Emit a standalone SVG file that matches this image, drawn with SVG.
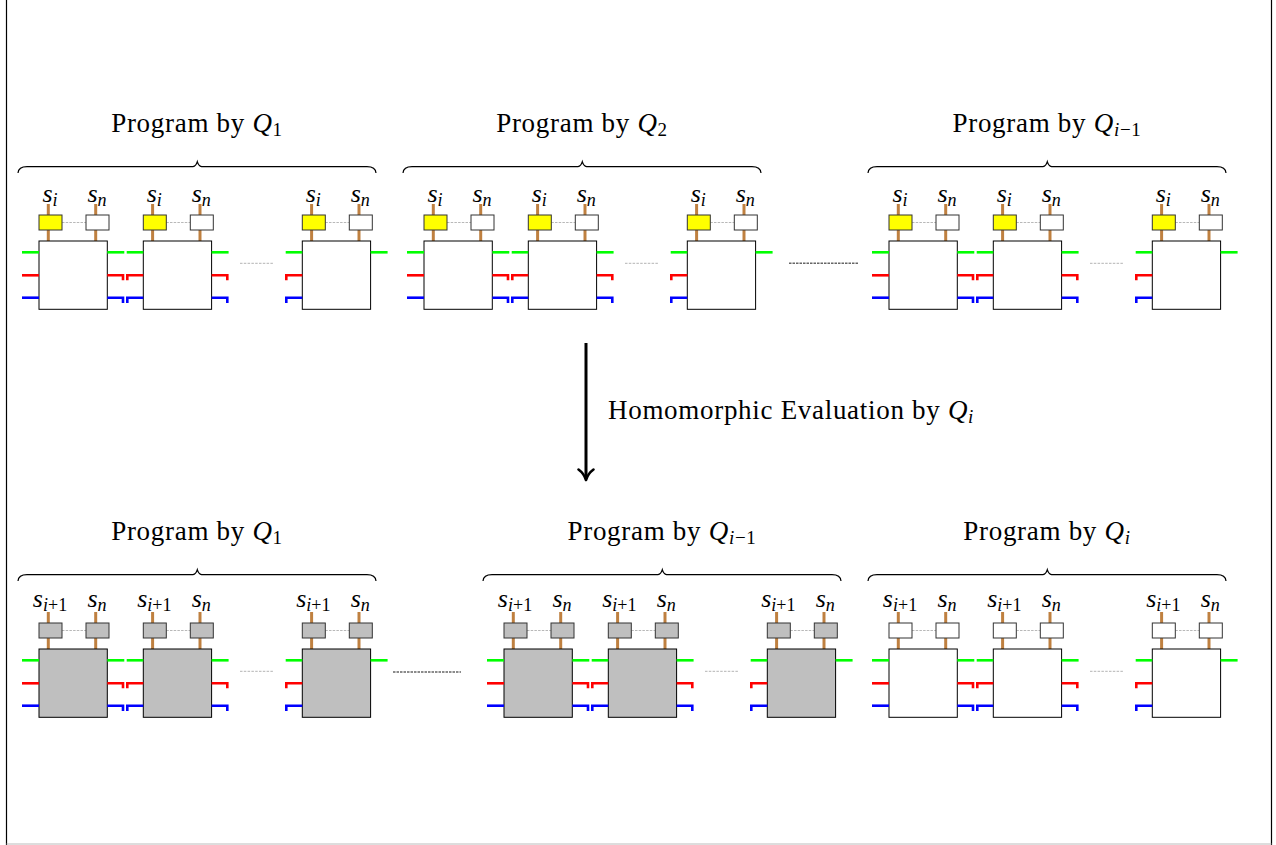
<svg xmlns="http://www.w3.org/2000/svg" xmlns:xlink="http://www.w3.org/1999/xlink" width="1276" height="845" viewBox="0 0 1276 845">
<style>
.brown{stroke:#bf8040;stroke-width:3}
.big{stroke:#000;stroke-width:1}
.sm{stroke:#333;stroke-width:1}
.lnk{stroke:#999;stroke-width:0.7;stroke-dasharray:2.5 1.2}
.g{stroke:#00ff00;stroke-width:2.6;fill:none}
.r{stroke:#ff0000;stroke-width:2.6;fill:none;stroke-linejoin:miter}
.b{stroke:#0000ff;stroke-width:2.6;fill:none;stroke-linejoin:miter}
.lab{font-family:"Liberation Serif",serif;font-style:italic;font-size:26px;text-anchor:middle;fill:#000}
.sub{font-size:18px}
.prog{font-family:"Liberation Serif",serif;font-size:27px;letter-spacing:0.7px;text-anchor:middle;fill:#000}
.brace{stroke:#000;stroke-width:1.2;fill:none}
.dots{stroke:#aaa;stroke-width:0.9;stroke-dasharray:2.5 1.3}
.gdots{stroke:#666;stroke-width:1.6;stroke-dasharray:2.5 1}
</style>
<defs>
<g id="core-yellow">
<line class="brown" x1="9.3" y1="204" x2="9.3" y2="241"/>
<line class="brown" x1="56.7" y1="204" x2="56.7" y2="241"/>
<line class="lnk" x1="23" y1="222.5" x2="47" y2="222.5"/>
<rect class="sm" x="0" y="215" width="23" height="15" fill="#ffff00"/>
<rect class="sm" x="47" y="215" width="23" height="15" fill="#ffffff"/>
<rect class="big" x="0" y="241" width="68.3" height="68.3" fill="#ffffff"/>
</g>
<g id="core-gray">
<line class="brown" x1="9.3" y1="204" x2="9.3" y2="241"/>
<line class="brown" x1="56.7" y1="204" x2="56.7" y2="241"/>
<line class="lnk" x1="23" y1="222.5" x2="47" y2="222.5"/>
<rect class="sm" x="0" y="215" width="23" height="15" fill="#bfbfbf"/>
<rect class="sm" x="47" y="215" width="23" height="15" fill="#bfbfbf"/>
<rect class="big" x="0" y="241" width="68.3" height="68.3" fill="#bfbfbf"/>
</g>
<g id="core-white">
<line class="brown" x1="9.3" y1="204" x2="9.3" y2="241"/>
<line class="brown" x1="56.7" y1="204" x2="56.7" y2="241"/>
<line class="lnk" x1="23" y1="222.5" x2="47" y2="222.5"/>
<rect class="sm" x="0" y="215" width="23" height="15" fill="#ffffff"/>
<rect class="sm" x="47" y="215" width="23" height="15" fill="#ffffff"/>
<rect class="big" x="0" y="241" width="68.3" height="68.3" fill="#ffffff"/>
</g>
<g id="lp">
<path class="g" d="M-17,252.3H0"/>
<path class="r" d="M-17,275.3H0"/>
<path class="b" d="M-17,297.7H0"/>
</g>
<g id="lt">
<path class="g" d="M-16.6,252.3H0"/>
<path class="r" d="M-16,280.3V275.3H0"/>
<path class="b" d="M-16,302.9V297.7H0"/>
</g>
<g id="rt">
<path class="g" d="M68.3,252.3H85.3"/>
<path class="r" d="M68.3,275.3H84V280.3"/>
<path class="b" d="M68.3,297.7H84V302.9"/>
</g>
<g id="rg">
<path class="g" d="M68.3,252.3H85.3"/>
</g>
<path id="bracepath" class="brace" d="M18,173 Q18.5,166.7 27,166.7 L193,166.7 Q196,166.2 197.3,161.7 Q198.6,166.2 201.6,166.7 L367,166.7 Q375.5,166.7 376,173"/>
</defs>

<rect x="0" y="0" width="1276" height="845" fill="#ffffff"/>
<g id="frame">
<line x1="6.5" y1="0" x2="6.5" y2="845" stroke="#000" stroke-width="1.2"/>
<line x1="1271.5" y1="0" x2="1271.5" y2="845" stroke="#000" stroke-width="1.2"/>
<line x1="6.5" y1="844" x2="1271.5" y2="844" stroke="#bbb" stroke-width="1"/>
</g>

<!-- Top row -->
<g id="top-q1">
<use href="#bracepath"/>
<text class="prog" x="197" y="132">Program by <tspan font-style="italic">Q</tspan><tspan font-size="19" dy="4">1</tspan></text>
<g id="top-q1-u1" transform="translate(39,0)"><use href="#core-yellow"/><use href="#lp"/><use href="#rt"/><text class="lab" x="11" y="202">s<tspan class="sub" dy="3.5">i</tspan></text><text class="lab" x="58" y="202">s<tspan class="sub" dy="3.5">n</tspan></text></g>
<g id="top-q1-u2" transform="translate(143.3,0)"><use href="#core-yellow"/><use href="#lt"/><use href="#rt"/><text class="lab" x="11" y="202">s<tspan class="sub" dy="3.5">i</tspan></text><text class="lab" x="58" y="202">s<tspan class="sub" dy="3.5">n</tspan></text></g>
<line class="dots" x1="240" y1="263.3" x2="273" y2="263.3"/>
<g id="top-q1-u3" transform="translate(302.3,0)"><use href="#core-yellow"/><use href="#lt"/><use href="#rg"/><text class="lab" x="11" y="202">s<tspan class="sub" dy="3.5">i</tspan></text><text class="lab" x="58" y="202">s<tspan class="sub" dy="3.5">n</tspan></text></g>
</g>

<g id="top-q2" transform="translate(385,0)">
<use href="#bracepath"/>
<text class="prog" x="197" y="132">Program by <tspan font-style="italic">Q</tspan><tspan font-size="19" dy="4">2</tspan></text>
<g id="top-q2-u1" transform="translate(39,0)"><use href="#core-yellow"/><use href="#lp"/><use href="#rt"/><text class="lab" x="11" y="202">s<tspan class="sub" dy="3.5">i</tspan></text><text class="lab" x="58" y="202">s<tspan class="sub" dy="3.5">n</tspan></text></g>
<g id="top-q2-u2" transform="translate(143.3,0)"><use href="#core-yellow"/><use href="#lt"/><use href="#rt"/><text class="lab" x="11" y="202">s<tspan class="sub" dy="3.5">i</tspan></text><text class="lab" x="58" y="202">s<tspan class="sub" dy="3.5">n</tspan></text></g>
<line class="dots" x1="240" y1="263.3" x2="273" y2="263.3"/>
<g id="top-q2-u3" transform="translate(302.3,0)"><use href="#core-yellow"/><use href="#lt"/><use href="#rg"/><text class="lab" x="11" y="202">s<tspan class="sub" dy="3.5">i</tspan></text><text class="lab" x="58" y="202">s<tspan class="sub" dy="3.5">n</tspan></text></g>
</g>

<g id="top-qim1" transform="translate(850,0)">
<use href="#bracepath"/>
<text class="prog" x="197" y="132">Program by <tspan font-style="italic">Q</tspan><tspan font-size="19" dy="4"><tspan font-style="italic">i</tspan>−1</tspan></text>
<g id="top-qim1-u1" transform="translate(39,0)"><use href="#core-yellow"/><use href="#lp"/><use href="#rt"/><text class="lab" x="11" y="202">s<tspan class="sub" dy="3.5">i</tspan></text><text class="lab" x="58" y="202">s<tspan class="sub" dy="3.5">n</tspan></text></g>
<g id="top-qim1-u2" transform="translate(143.3,0)"><use href="#core-yellow"/><use href="#lt"/><use href="#rt"/><text class="lab" x="11" y="202">s<tspan class="sub" dy="3.5">i</tspan></text><text class="lab" x="58" y="202">s<tspan class="sub" dy="3.5">n</tspan></text></g>
<line class="dots" x1="240" y1="263.3" x2="273" y2="263.3"/>
<g id="top-qim1-u3" transform="translate(302.3,0)"><use href="#core-yellow"/><use href="#lt"/><use href="#rg"/><text class="lab" x="11" y="202">s<tspan class="sub" dy="3.5">i</tspan></text><text class="lab" x="58" y="202">s<tspan class="sub" dy="3.5">n</tspan></text></g>
</g>

<!-- Bottom row -->
<g id="bot-q1" transform="translate(0,408)">
<use href="#bracepath"/>
<text class="prog" x="197" y="132">Program by <tspan font-style="italic">Q</tspan><tspan font-size="19" dy="4">1</tspan></text>
<g id="bot-q1-u1" transform="translate(39,0)"><use href="#core-gray"/><use href="#lp"/><use href="#rt"/><text class="lab" x="11" y="199">s<tspan class="sub" dy="3.5">i<tspan font-style="normal">+1</tspan></tspan></text><text class="lab" x="58" y="199">s<tspan class="sub" dy="3.5">n</tspan></text></g>
<g id="bot-q1-u2" transform="translate(143.3,0)"><use href="#core-gray"/><use href="#lt"/><use href="#rt"/><text class="lab" x="11" y="199">s<tspan class="sub" dy="3.5">i<tspan font-style="normal">+1</tspan></tspan></text><text class="lab" x="58" y="199">s<tspan class="sub" dy="3.5">n</tspan></text></g>
<line class="dots" x1="240" y1="263.3" x2="273" y2="263.3"/>
<g id="bot-q1-u3" transform="translate(302.3,0)"><use href="#core-gray"/><use href="#lt"/><use href="#rg"/><text class="lab" x="11" y="199">s<tspan class="sub" dy="3.5">i<tspan font-style="normal">+1</tspan></tspan></text><text class="lab" x="58" y="199">s<tspan class="sub" dy="3.5">n</tspan></text></g>
</g>

<g id="bot-qim1" transform="translate(465,408)">
<use href="#bracepath"/>
<text class="prog" x="197" y="132">Program by <tspan font-style="italic">Q</tspan><tspan font-size="19" dy="4"><tspan font-style="italic">i</tspan>−1</tspan></text>
<g id="bot-qim1-u1" transform="translate(39,0)"><use href="#core-gray"/><use href="#lp"/><use href="#rt"/><text class="lab" x="11" y="199">s<tspan class="sub" dy="3.5">i<tspan font-style="normal">+1</tspan></tspan></text><text class="lab" x="58" y="199">s<tspan class="sub" dy="3.5">n</tspan></text></g>
<g id="bot-qim1-u2" transform="translate(143.3,0)"><use href="#core-gray"/><use href="#lt"/><use href="#rt"/><text class="lab" x="11" y="199">s<tspan class="sub" dy="3.5">i<tspan font-style="normal">+1</tspan></tspan></text><text class="lab" x="58" y="199">s<tspan class="sub" dy="3.5">n</tspan></text></g>
<line class="dots" x1="240" y1="263.3" x2="273" y2="263.3"/>
<g id="bot-qim1-u3" transform="translate(302.3,0)"><use href="#core-gray"/><use href="#lt"/><use href="#rg"/><text class="lab" x="11" y="199">s<tspan class="sub" dy="3.5">i<tspan font-style="normal">+1</tspan></tspan></text><text class="lab" x="58" y="199">s<tspan class="sub" dy="3.5">n</tspan></text></g>
</g>

<g id="bot-qi" transform="translate(850,408)">
<use href="#bracepath"/>
<text class="prog" x="197" y="132">Program by <tspan font-style="italic">Q</tspan><tspan font-size="19" dy="4" font-style="italic">i</tspan></text>
<g id="bot-qi-u1" transform="translate(39,0)"><use href="#core-white"/><use href="#lp"/><use href="#rt"/><text class="lab" x="11" y="199">s<tspan class="sub" dy="3.5">i<tspan font-style="normal">+1</tspan></tspan></text><text class="lab" x="58" y="199">s<tspan class="sub" dy="3.5">n</tspan></text></g>
<g id="bot-qi-u2" transform="translate(143.3,0)"><use href="#core-white"/><use href="#lt"/><use href="#rt"/><text class="lab" x="11" y="199">s<tspan class="sub" dy="3.5">i<tspan font-style="normal">+1</tspan></tspan></text><text class="lab" x="58" y="199">s<tspan class="sub" dy="3.5">n</tspan></text></g>
<line class="dots" x1="240" y1="263.3" x2="273" y2="263.3"/>
<g id="bot-qi-u3" transform="translate(302.3,0)"><use href="#core-white"/><use href="#lt"/><use href="#rg"/><text class="lab" x="11" y="199">s<tspan class="sub" dy="3.5">i<tspan font-style="normal">+1</tspan></tspan></text><text class="lab" x="58" y="199">s<tspan class="sub" dy="3.5">n</tspan></text></g>
</g>

<g id="connectors">
<line class="gdots" x1="789" y1="263.3" x2="858" y2="263.3"/>
<line class="gdots" x1="393" y1="672" x2="461" y2="672"/>
<line x1="586" y1="343" x2="586" y2="478" stroke="#000" stroke-width="3"/>
<path d="M578.5,469.5 Q584,473.5 586,480 Q588,473.5 593.5,469.5" stroke="#000" stroke-width="2.6" fill="none" stroke-linecap="round" stroke-linejoin="round"/>
<text class="prog" x="608" y="419" style="text-anchor:start">Homomorphic Evaluation by <tspan font-style="italic">Q</tspan><tspan font-size="19" dy="4" font-style="italic">i</tspan></text>
</g>
</svg>
